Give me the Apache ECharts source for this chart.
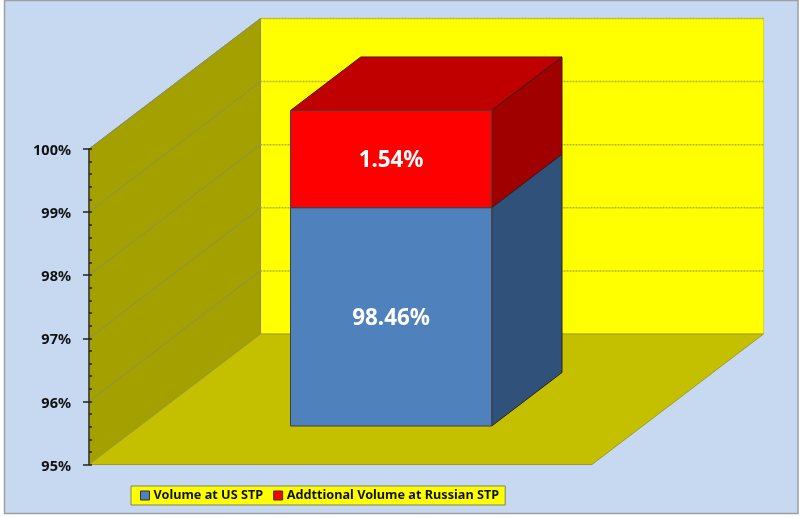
<!DOCTYPE html>
<html>
<head>
<meta charset="utf-8">
<style>html,body{margin:0;padding:0;background:#fff}#c{width:800px;height:517px}</style>
<script src="https://cdn.jsdelivr.net/npm/echarts@6/dist/echarts.min.js"></script>
</head>
<body>
<div id="c"></div>
<script>
const categories = ['Volume'];
const usVolume = [98.46];
const russianVolume = [1.54];
const seriesNames = ['Volume at US STP', 'Addttional Volume at Russian STP'];
const axisMin = 95, axisMax = 100, axisStep = 1;
const FONT = '"Noto Sans", sans-serif';
const DX = 171.5, DY = -130.5;
const T0 = 0.295, T1 = 0.705, HALF = 0.2;
const gridLevels = [96, 97, 98, 99, 100];

function proj(api, px, val, t) {
  const c = api.coord([0, val]);
  return [px + DX * t, c[1] + DY * t];
}
function poly(points, fill, stroke, lw) {
  return { type: 'polygon', shape: { points }, style: { fill, stroke: stroke || null, lineWidth: lw || 0 } };
}
function line(a, b, stroke, lw, dash) {
  return { type: 'line', shape: { x1: a[0], y1: a[1], x2: b[0], y2: b[1] },
    style: { stroke, lineWidth: lw, lineDash: dash || null } };
}
function renderScene(params, api) {
  const cs = params.coordSys, L = cs.x, R = cs.x + cs.width;
  const p = (x, v, t) => proj(api, x, v, t);
  const ch = [];
  ch.push(poly([p(L, axisMin, 1), p(R, axisMin, 1), p(R, axisMax, 1), p(L, axisMax, 1)], '#ffff00', '#d8d820', 1));
  ch.push(poly([p(L, axisMin, 0), p(L, axisMin, 1), p(L, axisMax, 1), p(L, axisMax, 0)], '#a3a000', '#8c8c60', 1));
  ch.push(poly([p(L, axisMin, 0), p(R, axisMin, 0), p(R, axisMin, 1), p(L, axisMin, 1)], '#c4c000', '#9c9a30', 1));
  gridLevels.forEach(v => {
    ch.push(line(p(L, v, 0), p(L, v, 1), '#8e8e5c', 1));
    ch.push(line(p(L, v, 1), p(R, v, 1), '#b4b040', 1.5, [2, 1]));
  });
  return { type: 'group', children: ch };
}
function barShape(color, side, top) {
  return function (params, api) {
    const idx = api.value(0), lo = api.value(1), hi = api.value(2), share = api.value(3);
    const c = api.coord([idx, lo])[0], hw = api.size([1, 0])[0] * HALF;
    const a = c - hw, b = c + hw;
    const p = (x, v, t) => proj(api, x, v, t);
    const ch = [];
    if (top) ch.push(poly([p(a, hi, T0), p(b, hi, T0), p(b, hi, T1), p(a, hi, T1)], top, '#5a1010', 1));
    ch.push(poly([p(b, lo, T0), p(b, lo, T1), p(b, hi, T1), p(b, hi, T0)], side, '#302020', 1));
    ch.push(poly([p(a, lo, T0), p(b, lo, T0), p(b, hi, T0), p(a, hi, T0)], color, '#404040', 1));
    const f0 = p(c, lo, T0), f1 = p(c, hi, T0);
    ch.push({ type: 'text', style: { text: share.toFixed(2) + '%', x: f0[0], y: (f0[1] + f1[1]) / 2 + 2,
      fill: '#fff', font: 'bold 22.4px ' + FONT, align: 'center', verticalAlign: 'middle' } });
    return { type: 'group', children: ch };
  };
}
const chart = echarts.init(document.getElementById('c'), null, { renderer: 'canvas' });
const commonAxis = { type: 'value', min: axisMin, max: axisMax, interval: axisStep, position: 'left',
  splitLine: { show: false } };
chart.setOption({
  animation: false,
  backgroundColor: '#fff',
  graphic: [{ type: 'rect', z: -10, silent: true, shape: { x: 4.5, y: 0.5, width: 793.5, height: 513 },
    style: { fill: '#c6d9f1', stroke: '#9a9fa4', lineWidth: 1.5 } }],
  grid: { left: 89, top: 149, width: 503, height: 315.5, containLabel: false },
  xAxis: { type: 'category', data: categories, show: false },
  yAxis: [
    Object.assign({}, commonAxis, { z: 10,
      axisLine: { show: true, lineStyle: { color: '#333', width: 1.5 } },
      axisTick: { show: true, length: 6, lineStyle: { color: '#222', width: 1.5 } },
      axisLabel: { formatter: '{a|{value}%}', margin: 18,
        rich: { a: { color: '#111', fontFamily: FONT, fontWeight: 'bold', fontSize: 14.5, padding: [4, 0, 0, 0] } } } }),
    Object.assign({}, commonAxis, { z: 10,
      axisLine: { show: false },
      axisLabel: { show: false },
      axisTick: { show: true, inside: true, length: 3, lineStyle: { color: '#222', width: 1.5 } },
      minorTick: { show: true, splitNumber: 5, length: 3, lineStyle: { color: '#222', width: 1.5 } } })
  ],
  legend: {
    left: 131, top: 486, padding: [3, 6, 3, 9], itemGap: 10, itemWidth: 9, itemHeight: 9,
    backgroundColor: '#ffff00', borderColor: '#808060', borderWidth: 1, borderRadius: 0,
    data: seriesNames, icon: 'rect',
    itemStyle: { borderColor: '#333', borderWidth: 1 },
    textStyle: { color: '#111', fontFamily: FONT, fontWeight: 'bold', fontSize: 12.7, padding: [1, 0, 0, -1] }
  },
  series: [
    { type: 'custom', name: 'scene', z: 1, silent: true, renderItem: renderScene, data: [[0, axisMin]], encode: { x: 0, y: 1 } },
    { type: 'custom', name: seriesNames[0], z: 2, itemStyle: { color: '#4f81bd' },
      renderItem: barShape('#4f81bd', '#30527a', null),
      data: categories.map((c, i) => [i, axisMin, usVolume[i], usVolume[i]]), encode: { x: 0, y: [1, 2] } },
    { type: 'custom', name: seriesNames[1], z: 3, itemStyle: { color: '#ff0000' },
      renderItem: barShape('#ff0000', '#a00000', '#c00000'),
      data: categories.map((c, i) => [i, usVolume[i], usVolume[i] + russianVolume[i], russianVolume[i]]), encode: { x: 0, y: [1, 2] } }
  ]
});
</script>
</body>
</html>
